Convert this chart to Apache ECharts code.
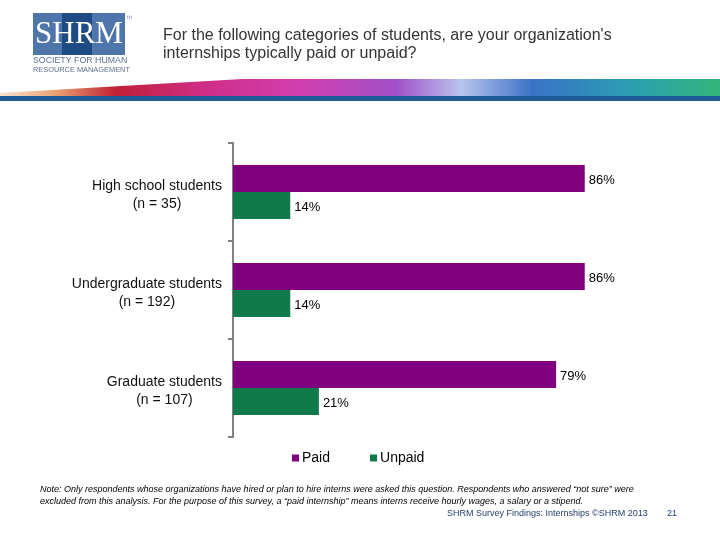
<!DOCTYPE html>
<html>
<head>
<meta charset="utf-8">
<script src="https://cdn.jsdelivr.net/npm/echarts@6/dist/echarts.min.js"></script>
<style>html,body{margin:0;padding:0;background:#fff;}#main{width:720px;height:540px;}</style>
</head>
<body>
<div id="main"></div>
<script>
const categories = ['High school students\n(n = 35)', 'Undergraduate students\n(n = 192)', 'Graduate students\n(n = 107)'];
const seriesNames = ['Paid', 'Unpaid'];
const paidValues = [86, 86, 79];
const unpaidValues = [14, 14, 21];
const titleLines = ["For the following categories of students, are your organization's", 'internships typically paid or unpaid?'];
const noteLines = ['Note: Only respondents whose organizations have hired or plan to hire interns were asked this question. Respondents who answered \u201cnot sure\u201d were',
  'excluded from this analysis. For the purpose of this survey, a \u201cpaid internship\u201d means interns receive hourly wages, a salary or a stipend.'];
const footerText = 'SHRM Survey Findings: Internships \u00A9SHRM 2013';
const pageNumber = '21';

const FONT = '"Liberation Sans", Arial, sans-serif';
const chart = echarts.init(document.getElementById('main'), null, {renderer: 'canvas'});

chart.setOption({
  animation: false,
  backgroundColor: '#ffffff',
  grid: {left: 233, right: 78, top: 143, bottom: 103, containLabel: false},
  xAxis: {type: 'value', min: 0, max: 100, show: false},
  yAxis: {
    type: 'category', data: categories, inverse: true,
    axisLine: {show: true, lineStyle: {color: '#808080', width: 2}},
    axisTick: {show: true, length: 5, lineStyle: {color: '#808080', width: 2}},
    axisLabel: {
      margin: 11, color: '#000', fontFamily: FONT, fontSize: 14, lineHeight: 18,
      padding: [7, 0, 0, 0],
      formatter: v => v.split('\n').map(l => '{c|' + l + '}').join('\n'),
      rich: {c: {align: 'center', fontFamily: FONT, fontSize: 14, lineHeight: 18, color: '#111'}}
    },
    splitLine: {show: false}
  },
  legend: {
    data: seriesNames, left: 292, top: 451, padding: 0, itemGap: 40,
    itemWidth: 7, itemHeight: 7, icon: 'rect',
    textStyle: {fontFamily: FONT, fontSize: 14, color: '#000', padding: [0, 0, 0, -2]}
  },
  series: [
    {name: seriesNames[0], type: 'bar', data: paidValues, barWidth: 27, barGap: '0%',
      itemStyle: {color: '#800080'},
      label: {show: true, position: 'right', distance: 4, offset: [0, 2], formatter: '{c}%', fontFamily: FONT, fontSize: 13, color: '#000', padding: [3, 0, 0, 0]}},
    {name: seriesNames[1], type: 'bar', data: unpaidValues, barWidth: 27, barGap: '0%',
      itemStyle: {color: '#107a4b'},
      label: {show: true, position: 'right', distance: 4, offset: [0, 2], formatter: '{c}%', fontFamily: FONT, fontSize: 13, color: '#000', padding: [3, 0, 0, 0]}}
  ],
  graphic: [
    // logo
    {type: 'rect', shape: {x: 33, y: 13, width: 92, height: 42}, style: {fill: '#4f76aa'}},
    {type: 'rect', shape: {x: 62, y: 13, width: 30, height: 42}, style: {fill: '#1f4b85'}},
    {type: 'text', x: 79, y: 35, style: {text: 'SHRM', fill: '#fff', font: '31px "Liberation Serif", serif', align: 'center', verticalAlign: 'middle'}},
    {type: 'text', x: 127, y: 14, style: {text: 'th', fill: '#8090b0', font: '6px ' + FONT, align: 'left', verticalAlign: 'top'}},
    {type: 'text', x: 33, y: 61, style: {text: 'SOCIETY FOR HUMAN', fill: '#5a6f8f', font: '8.8px ' + FONT, align: 'left', verticalAlign: 'middle'}},
    {type: 'text', x: 33, y: 70, style: {text: 'RESOURCE MANAGEMENT', fill: '#5a6f8f', font: '7.4px ' + FONT, align: 'left', verticalAlign: 'middle'}},
    // title
    {type: 'text', x: 163, y: 36, style: {text: titleLines[0], fill: '#333', font: '16px ' + FONT, align: 'left', verticalAlign: 'middle'}},
    {type: 'text', x: 163, y: 54, style: {text: titleLines[1], fill: '#333', font: '16px ' + FONT, align: 'left', verticalAlign: 'middle'}},
    // banner
    {type: 'rect', shape: {x: 0, y: 79, width: 720, height: 17},
      style: {fill: new echarts.graphic.LinearGradient(0, 0, 1, 0, [
        {offset: 0, color: '#fbe3cf'}, {offset: 0.08, color: '#e8a070'}, {offset: 0.16, color: '#c02035'},
        {offset: 0.28, color: '#cf2d86'}, {offset: 0.42, color: '#d040b0'}, {offset: 0.55, color: '#a050c8'},
        {offset: 0.64, color: '#b8c4ec'}, {offset: 0.74, color: '#3a72c6'}, {offset: 0.88, color: '#2aa0b0'},
        {offset: 1, color: '#35b57a'}])}},
    {type: 'polygon', shape: {points: [[0, 78], [260, 78], [0, 93]]}, style: {fill: '#fff'}},
    {type: 'rect', shape: {x: 0, y: 96, width: 720, height: 5}, style: {fill: '#1e5a96'}},
    // notes
    {type: 'text', x: 40, y: 489, style: {text: noteLines[0], fill: '#000', font: 'italic 9px ' + FONT, align: 'left', verticalAlign: 'middle'}},
    {type: 'text', x: 40, y: 501, style: {text: noteLines[1], fill: '#000', font: 'italic 9px ' + FONT, align: 'left', verticalAlign: 'middle'}},
    {type: 'text', x: 447, y: 514, style: {text: footerText, fill: '#24406e', font: '9px ' + FONT, align: 'left', verticalAlign: 'middle'}},
    {type: 'text', x: 667, y: 514, style: {text: pageNumber, fill: '#24406e', font: '9px ' + FONT, align: 'left', verticalAlign: 'middle'}}
  ]
});
</script>
</body>
</html>
